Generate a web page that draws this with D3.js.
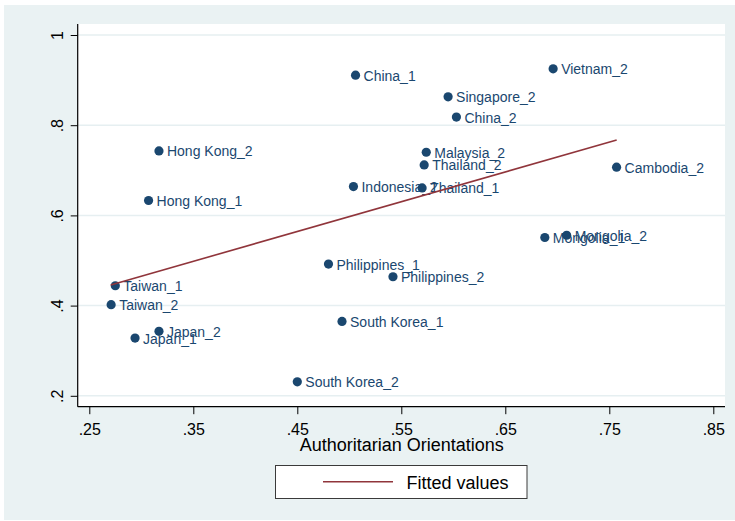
<!DOCTYPE html>
<html>
<head>
<meta charset="utf-8">
<script src="https://cdn.jsdelivr.net/npm/d3@7"></script>
<style>
  html, body { margin: 0; padding: 0; background: #ffffff; }
  svg { display: block; }
  text { font-family: "Liberation Sans", Arial, Helvetica, sans-serif; }
</style>
</head>
<body>
<svg id="chart" width="735" height="521"></svg>
<script>
// Country-wave observations: authoritarian orientations (x) vs. outcome (y)
const labels = [
  "China_1", "Vietnam_2", "Singapore_2", "China_2", "Hong Kong_2",
  "Malaysia_2", "Thailand_2", "Cambodia_2", "Indonesia_2", "Thailand_1",
  "Hong Kong_1", "Mongolia_1", "Mongolia_2", "Philippines_1", "Philippines_2",
  "Taiwan_1", "Taiwan_2", "South Korea_1", "Japan_2", "Japan_1", "South Korea_2"
];
const xValues = [
  0.506, 0.696, 0.595, 0.603, 0.317,
  0.574, 0.572, 0.757, 0.504, 0.570,
  0.307, 0.688, 0.709, 0.480, 0.542,
  0.275, 0.271, 0.493, 0.317, 0.294, 0.450
];
const yValues = [
  0.911, 0.925, 0.863, 0.818, 0.743,
  0.740, 0.712, 0.707, 0.664, 0.661,
  0.633, 0.551, 0.556, 0.492, 0.464,
  0.444, 0.402, 0.365, 0.343, 0.328, 0.231
];

// Linear fit, drawn between its two end points
const fitX = [0.2706, 0.7571];
const fitY = [0.4457, 0.7672];

const xTicks = [0.25, 0.35, 0.45, 0.55, 0.65, 0.75, 0.85];
const yTicks = [0.2, 0.4, 0.6, 0.8, 1];
const xTitle = "Authoritarian Orientations";
const legendLabel = "Fitted values";

const navy = "#1a476f";
const maroon = "#90353b";

const svg = d3.select("#chart");

// Outer graph region
svg.append("rect")
  .attr("x", 4).attr("y", 5).attr("width", 731).attr("height", 515)
  .attr("fill", "#eaf2f3");

// Plot region bounds
const plot = { left: 77.7, right: 725, top: 24, bottom: 406.7 };

svg.append("rect")
  .attr("x", plot.left).attr("y", plot.top)
  .attr("width", plot.right - plot.left).attr("height", plot.bottom - plot.top)
  .attr("fill", "#ffffff");

const x = d3.scaleLinear().domain([0.25, 0.85]).range([89.3, 713.3]);
const y = d3.scaleLinear().domain([0.2, 1]).range([395.8, 35]);

const fmt = d => String(d).replace(/^0(?=\.)/, "");

// Horizontal gridlines
svg.append("g")
  .selectAll("line")
  .data(yTicks)
  .join("line")
  .attr("x1", plot.left).attr("x2", plot.right)
  .attr("y1", d => y(d)).attr("y2", d => y(d))
  .attr("stroke", "#e6eff1")
  .attr("stroke-width", 1.5);

// Y axis
const yAxis = svg.append("g")
  .attr("transform", `translate(${plot.left},0)`)
  .call(d3.axisLeft(y).tickValues(yTicks).tickFormat(fmt).tickSize(7).tickSizeOuter(0));
yAxis.select(".domain").remove();
yAxis.selectAll(".tick line").attr("stroke", "#000").attr("stroke-width", 1);
yAxis.selectAll(".tick text")
  .attr("x", null).attr("dy", null)
  .attr("text-anchor", "middle")
  .attr("transform", "translate(-14.5,0) rotate(-90)")
  .attr("font-size", 16)
  .attr("fill", "#000");

// X axis
const xAxis = svg.append("g")
  .attr("transform", `translate(0,${plot.bottom})`)
  .call(d3.axisBottom(x).tickValues(xTicks).tickFormat(fmt).tickSize(7.5).tickSizeOuter(0));
xAxis.select(".domain").remove();
xAxis.selectAll(".tick line").attr("stroke", "#000").attr("stroke-width", 1);
xAxis.selectAll(".tick text")
  .attr("y", 28.5).attr("dy", null)
  .attr("font-size", 16)
  .attr("fill", "#000");

// Axis lines
svg.append("line")
  .attr("x1", plot.left).attr("x2", plot.left)
  .attr("y1", plot.top).attr("y2", plot.bottom)
  .attr("stroke", "#000").attr("stroke-width", 1.2);
svg.append("line")
  .attr("x1", plot.left).attr("x2", plot.right)
  .attr("y1", plot.bottom).attr("y2", plot.bottom)
  .attr("stroke", "#000").attr("stroke-width", 1.2);

// Axis title
svg.append("text")
  .attr("x", (x(0.25) + x(0.85)) / 2 + 0.5)
  .attr("y", 451)
  .attr("text-anchor", "middle")
  .attr("font-size", 18)
  .attr("fill", "#000")
  .text(xTitle);

// Scatter points with marker labels
const pts = labels.map((l, i) => ({ label: l, x: xValues[i], y: yValues[i] }));

svg.append("g")
  .selectAll("circle")
  .data(pts)
  .join("circle")
  .attr("cx", d => x(d.x))
  .attr("cy", d => y(d.y))
  .attr("r", 4.6)
  .attr("fill", navy);

svg.append("g")
  .selectAll("text")
  .data(pts)
  .join("text")
  .attr("x", d => x(d.x) + 8)
  .attr("y", d => y(d.y) + 5.5)
  .attr("font-size", 14)
  .attr("fill", navy)
  .text(d => d.label);

// Fitted line
const fitPts = fitX.map((v, i) => [v, fitY[i]]);
svg.append("path")
  .datum(fitPts)
  .attr("d", d3.line().x(d => x(d[0])).y(d => y(d[1])))
  .attr("fill", "none")
  .attr("stroke", maroon)
  .attr("stroke-width", 1.6);

// Legend
const legend = svg.append("g");
legend.append("rect")
  .attr("x", 275.5).attr("y", 465.5).attr("width", 251.5).attr("height", 33)
  .attr("fill", "#ffffff").attr("stroke", "#3a3a3a").attr("stroke-width", 1);
legend.append("line")
  .attr("x1", 323).attr("x2", 393)
  .attr("y1", 481.7).attr("y2", 481.7)
  .attr("stroke", maroon).attr("stroke-width", 1.6);
legend.append("text")
  .attr("x", 406.5).attr("y", 488.5)
  .attr("font-size", 18)
  .attr("fill", "#000")
  .text(legendLabel);
</script>
</body>
</html>
